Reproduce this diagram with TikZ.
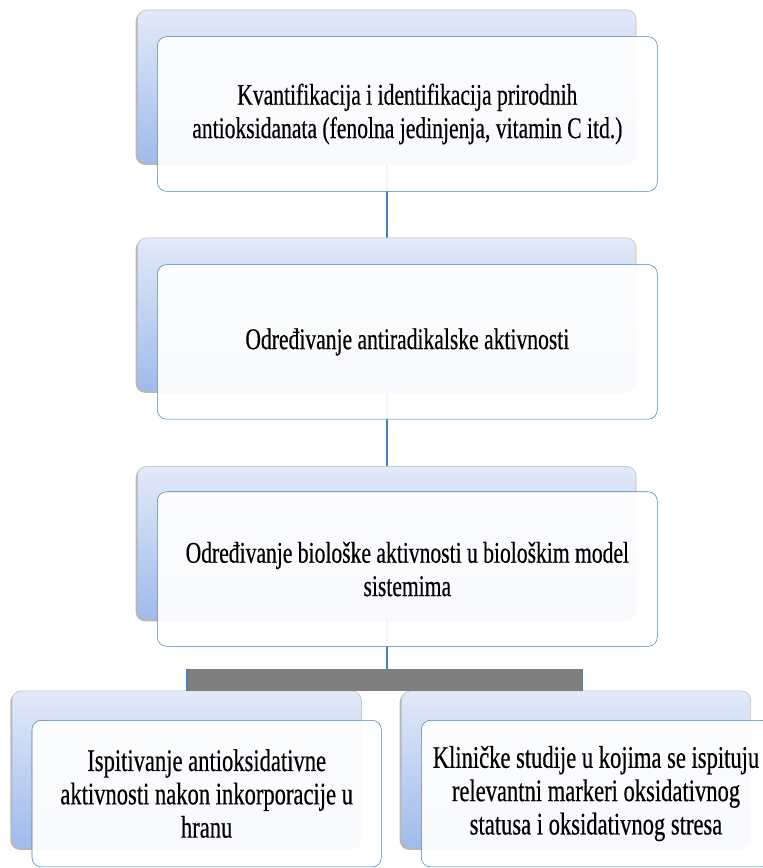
\documentclass[tikz,border=0pt]{standalone}
\usepackage{fontspec}
\setmainfont[FakeStretch=0.72,FakeBold=0.4]{Liberation Serif}
\usetikzlibrary{positioning,shadows,backgrounds}

\definecolor{backtop}{HTML}{E2EAF8}
\definecolor{backbot}{HTML}{A0BAEA}
\definecolor{edgeblue}{HTML}{4A7EBB}
\definecolor{bargray}{HTML}{7F7F7F}

\begin{document}
\begin{tikzpicture}[
  node distance=55pt,
  back/.style={rectangle, rounded corners=7pt, draw=gray!55, top color=backtop, bottom color=backbot,
    minimum width=374pt, minimum height=115pt,
    drop shadow={shadow xshift=-1.2pt, shadow yshift=-1.2pt, fill=gray!70, opacity=0.8}},
  backsmall/.style={back, minimum width=262pt, minimum height=118pt},
  front/.style={rectangle, rounded corners=7pt, draw=edgeblue, fill=white, fill opacity=0.93, text opacity=1,
    minimum width=375pt, minimum height=116pt, font=\fontsize{22.5}{25}\selectfont, align=center},
  frontsmall/.style={front, minimum width=262pt, minimum height=110pt, font=\fontsize{23.5}{25}\selectfont},
  link/.style={draw=edgeblue, line width=1.5pt}
]
  \useasboundingbox (0,0) rectangle (572.25pt,-651pt);
  \clip (0,0) rectangle (572.25pt,-651pt);

  % main column
  \node[back] (b1) at (290pt,-65pt) {};
  \node[front, below right=20pt and 15pt of b1.north west] (f1)
    {Kvantifikacija i identifikacija prirodnih\\antioksidanata (fenolna jedinjenja, vitamin C itd.)};
  \node[back, below=55.5pt of b1] (b2) {};
  \node[front, below right=20pt and 15pt of b2.north west] (f2)
    {Određivanje antiradikalske aktivnosti};
  \node[back, below=56pt of b2] (b3) {};
  \node[front, below right=19pt and 15pt of b3.north west] (f3)
    {Određivanje biološke aktivnosti u biološkim model\\sistemima};

  % two branches
  \node[backsmall, below=53pt of b3, xshift=-150pt] (b4) {};
  \node[frontsmall, below right=22pt and 15pt of b4.north west] (f4)
    {Ispitivanje antioksidativne\\aktivnosti nakon inkorporacije u\\hranu};
  \node[backsmall, below=53pt of b3, xshift=142pt] (b5) {};
  \node[frontsmall, below right=22pt and 15pt of b5.north west] (f5)
    {Kliničke studije u kojima se ispituju\\relevantni markeri oksidativnog\\statusa i oksidativnog stresa};

  \coordinate (bartop) at ([yshift=16.5pt]b4.north);
  \coordinate (barend) at ([xshift=5pt]b5.north);

  \begin{scope}[on background layer]
    \draw[link] (b1) -- (b2);
    \draw[link] (b2) -- (b3);
    \draw[link] (b3) -- (b3 |- bartop);
  \end{scope}
  \fill[bargray] (bartop) rectangle (barend);
  \draw[link] (b4.north) -- (bartop);
  \draw[edgeblue, line width=0.8pt] (barend) -- (barend |- bartop);
\end{tikzpicture}
\end{document}
